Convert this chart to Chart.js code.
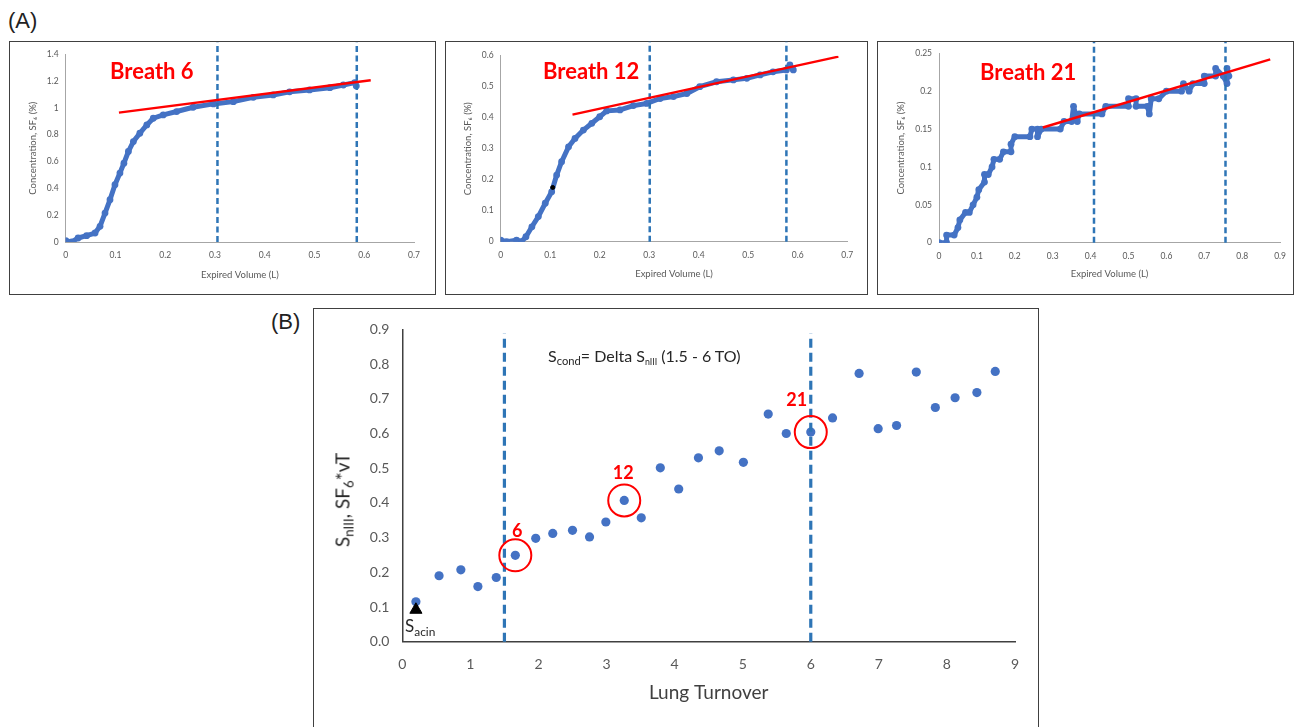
<!DOCTYPE html>
<html>
<head>
<meta charset="utf-8">
<script src="https://cdn.jsdelivr.net/npm/chart.js@4"></script>
<style>
  body { margin: 0; background: #fff; width: 1301px; height: 727px; overflow: hidden; position: relative; font-family: Lato, "Open Sans", sans-serif; }
  canvas { position: absolute; }
  .box { position: absolute; border: 1.5px solid #404040; box-sizing: border-box; }
  .txt { position: absolute; white-space: nowrap; line-height: 1; }
  .breath { color: #ff0000; font-weight: bold; font-size: 22px; }
  .panel { font-family: "Liberation Sans", Arial, sans-serif; font-size: 22px; color: #222; }
  sub { font-size: 70%; vertical-align: -0.3em; line-height: 0; }
</style>
</head>
<body>
<div class="txt panel" style="left:8px; top:10px;">(A)</div>
<div class="txt panel" style="left:271px; top:311px;">(B)</div>

<div class="box" style="left:9px; top:41px; width:427px; height:254px;"></div>
<div class="box" style="left:445px; top:41px; width:423px; height:254px;"></div>
<div class="box" style="left:877px; top:41px; width:417px; height:254px;"></div>
<div class="box" style="left:313px; top:308px; width:726px; height:440px;"></div>

<canvas id="c6" width="427" height="254" style="left:9px; top:41px;"></canvas>
<canvas id="c12" width="423" height="254" style="left:445px; top:41px;"></canvas>
<canvas id="c21" width="417" height="254" style="left:877px; top:41px;"></canvas>
<canvas id="cB" width="726" height="419" style="left:313px; top:308px;"></canvas>

<div class="txt breath" style="left:110px; top:60px;">Breath 6</div>
<div class="txt breath" style="left:543px; top:60px;">Breath 12</div>
<div class="txt breath" style="left:980px; top:61px;">Breath 21</div>

<div class="txt" style="left:548px; top:348px; font-size:16px; color:#262626;">S<sub>cond</sub>= Delta S<sub style="font-size:55%">nIII</sub> (1.5 - 6 TO)</div>
<div class="txt" style="left:405px; top:617px; font-size:17px; color:#262626;">S<sub>acin</sub></div>
<div class="txt" style="left:342px; top:500px; font-size:19px; color:#262626; transform: translate(-50%,-50%) rotate(-90deg);">S<sub>nIII</sub>, SF<sub>6</sub>*vT</div>

<script>
// Breath 6
b6Vol  = [0, 0.012, 0.025, 0.042, 0.059, 0.069, 0.079, 0.089, 0.099, 0.109, 0.117, 0.126, 0.136, 0.149, 0.163, 0.176, 0.196, 0.223, 0.256, 0.297, 0.337, 0.377, 0.417, 0.45, 0.49, 0.531, 0.558, 0.581, 0.584]
b6Conc = [0.01, 0, 0.03, 0.047, 0.067, 0.117, 0.216, 0.315, 0.427, 0.514, 0.588, 0.675, 0.749, 0.811, 0.873, 0.923, 0.948, 0.973, 1.005, 1.03, 1.047, 1.079, 1.097, 1.12, 1.134, 1.151, 1.171, 1.189, 1.164]
b6FitVol  = [0.107, 0.613]
b6FitConc = [0.965, 1.207]
b6Marks = [0.305, 0.585]

// Breath 12
b12Vol  = [0, 0.012, 0.032, 0.042, 0.051, 0.063, 0.076, 0.09, 0.103, 0.113, 0.123, 0.137, 0.15, 0.167, 0.184, 0.2, 0.214, 0.241, 0.268, 0.295, 0.322, 0.349, 0.376, 0.402, 0.436, 0.47, 0.497, 0.524, 0.55, 0.577, 0.584, 0.591]
b12Conc = [0.005, 0, 0.005, 0, 0.016, 0.048, 0.081, 0.124, 0.161, 0.215, 0.258, 0.306, 0.333, 0.36, 0.382, 0.403, 0.422, 0.425, 0.439, 0.446, 0.462, 0.468, 0.478, 0.5, 0.516, 0.522, 0.527, 0.538, 0.548, 0.554, 0.57, 0.554]
b12FitVol  = [0.145, 0.682]
b12FitConc = [0.41, 0.597]
b12Marks = [0.301, 0.577]

// Breath 21
b21Vol  = [0, 0.02, 0.02, 0.04, 0.05, 0.055, 0.07, 0.08, 0.09, 0.1, 0.105, 0.12, 0.12, 0.13, 0.14, 0.145, 0.16, 0.17, 0.19, 0.19, 0.2, 0.24, 0.245, 0.26, 0.26, 0.27, 0.32, 0.33, 0.35, 0.355, 0.36, 0.365, 0.37, 0.43, 0.44, 0.5, 0.5, 0.52, 0.52, 0.55, 0.555, 0.56, 0.58, 0.6, 0.64, 0.645, 0.66, 0.67, 0.7, 0.7, 0.73, 0.73, 0.75, 0.76, 0.76, 0.765]
b21Conc = [0, 0, 0.01, 0.01, 0.02, 0.03, 0.04, 0.04, 0.05, 0.06, 0.07, 0.08, 0.09, 0.09, 0.1, 0.11, 0.11, 0.12, 0.12, 0.13, 0.14, 0.14, 0.15, 0.15, 0.14, 0.15, 0.15, 0.16, 0.16, 0.18, 0.17, 0.16, 0.17, 0.17, 0.18, 0.18, 0.19, 0.19, 0.18, 0.18, 0.17, 0.19, 0.19, 0.2, 0.2, 0.21, 0.2, 0.21, 0.21, 0.22, 0.22, 0.23, 0.22, 0.21, 0.23, 0.22]
b21FitVol  = [0.274, 0.874]
b21FitConc = [0.152, 0.242]
b21Marks = [0.409, 0.756]

// Panel B: S_nIII vs lung turnover
turnover = [0.2, 0.54, 0.86, 1.11, 1.38, 1.66, 1.96, 2.21, 2.5, 2.75, 2.99, 3.26, 3.51, 3.79, 4.06, 4.35, 4.655, 5.01, 5.375, 5.64, 6.0, 6.32, 6.71, 6.99, 7.26, 7.55, 7.83, 8.12, 8.44, 8.71]
snIII    = [0.115, 0.19, 0.207, 0.159, 0.185, 0.249, 0.298, 0.312, 0.321, 0.302, 0.345, 0.407, 0.357, 0.501, 0.44, 0.53, 0.55, 0.517, 0.656, 0.6, 0.604, 0.645, 0.773, 0.614, 0.623, 0.777, 0.675, 0.703, 0.718, 0.779]
breathIdx    = [5, 11, 20]
breathLabels = ['6', '12', '21']
condLimits = [1.5, 6]
sAcin = [0.2, 0.092]

var pts = (xs, ys) => xs.map((x, i) => ({ x: x, y: ys[i] }))
var vline = (x, top) => [{ x: x, y: 0 }, { x: x, y: top }]
var fixW = w => (s => { s.width = w })
var fixH = h => (s => { s.height = h })
var plain = v => String(+v.toFixed(2))

// geometry: canvas [L,T,W,H], plot [left,top,right,bottom], centre of y title x, centre of x title y
function curvePanel(id, g, vol, conc, fitV, fitC, marks, xmax, ymax, ystep, dashTop, extra) {
    var [L, T, W, H] = g.box
    var [pl, pt, pr, pb] = g.plot
    var yOff = 11.4 / 2, xOff = 11.4 / 2
    var padL = g.ytx - L - yOff
    var xBottom = g.xty + xOff
    var datasets = [
        { data: pts(fitV, fitC), showLine: true, borderColor: '#ff0000', borderWidth: 2.5, pointRadius: 0, order: 1 },
        { data: pts(vol, conc), showLine: true, borderColor: '#4472c4', backgroundColor: '#4472c4', borderWidth: 5,
          borderJoinStyle: 'round', borderCapStyle: 'round', pointRadius: 3.4, pointBorderWidth: 0, order: 3 }
    ]
    marks.forEach(m => datasets.push({ data: vline(m, dashTop), showLine: true, borderColor: '#2e75b6', borderWidth: 2.5, borderDash: [6, 3.5], pointRadius: 0, clip: false, order: 2 }))
    if (extra) datasets.push(extra)
    return new Chart(document.getElementById(id), {
        type: 'scatter',
        data: { datasets: datasets },
        options: {
            responsive: false, animation: false, devicePixelRatio: 1,
            layout: { padding: { left: padL, top: pt - T, right: L + W - pr, bottom: T + H - xBottom } },
            plugins: { legend: { display: false }, tooltip: { enabled: false } },
            scales: {
                x: {
                    min: 0, max: xmax,
                    ticks: { stepSize: 0.1, color: '#595959', font: { family: 'Lato', size: 8.5 }, padding: 8, maxRotation: 0, callback: plain },
                    grid: { display: false, drawTicks: false },
                    border: { color: '#a6a6a6', width: 1 },
                    title: { display: true, text: 'Expired Volume (L)', color: '#595959', font: { family: 'Lato', size: 9.5 }, padding: 0 },
                    afterFit: fixH(xBottom - pb)
                },
                y: {
                    min: 0, max: ymax,
                    ticks: { stepSize: ystep, color: '#595959', font: { family: 'Lato', size: 8.5 }, padding: 7, callback: plain },
                    grid: { display: false, drawTicks: false },
                    border: { color: '#a6a6a6', width: 1 },
                    title: { display: true, text: 'Concentration, SF\u2086 (%)', color: '#595959', font: { family: 'Lato', size: 9.5 }, padding: 0 },
                    afterFit: fixW(pl - L - padL)
                }
            }
        }
    })
}

curvePanel('c6', { box: [9, 41, 427, 254], plot: [65.7, 54.3, 414, 242], ytx: 33, xty: 275 },
    b6Vol, b6Conc, b6FitVol, b6FitConc, b6Marks, 0.7, 1.4, 0.2, 1.49)
curvePanel('c12', { box: [445, 41, 423, 254], plot: [500.7, 55.7, 847.3, 241.7], ytx: 468, xty: 274 },
    b12Vol, b12Conc, b12FitVol, b12FitConc, b12Marks, 0.7, 0.6, 0.1, 0.645,
    { data: [{ x: 0.105, y: 0.175 }], pointRadius: 2, backgroundColor: '#000', borderColor: '#000', order: 0 })
curvePanel('c21', { box: [877, 41, 417, 254], plot: [939, 53.3, 1284.3, 242.7], ytx: 901, xty: 274 },
    b21Vol, b21Conc, b21FitVol, b21FitConc, b21Marks, 0.9, 0.25, 0.05, 0.265)

// panel B
var labelPlugin = {
    id: 'breathLabels',
    afterDatasetsDraw(chart) {
        var meta = chart.getDatasetMeta(0)
        var offs = [[2, -24], [-1, -27], [-14, -32]]
        var ctx = chart.ctx
        ctx.save()
        ctx.fillStyle = '#ff0000'
        ctx.font = 'bold 18px Lato'
        ctx.textAlign = 'center'
        ctx.textBaseline = 'middle'
        meta.data.forEach((p, i) => ctx.fillText(breathLabels[i], p.x + offs[i][0], p.y + offs[i][1]))
        ctx.restore()
    }
}

var bBox = [313, 308, 726, 419], bPlot = [402.3, 329, 1015, 641.7], bXty = 693
var bXBottom = bXty + 19 * 1.2 / 2
new Chart(document.getElementById('cB'), {
    type: 'scatter',
    data: {
        datasets: [
            { data: breathIdx.map(i => ({ x: turnover[i], y: snIII[i] })), pointRadius: 16, pointBorderWidth: 2, borderColor: '#ff0000', backgroundColor: 'rgba(0,0,0,0)', order: 0 },
            { data: [{ x: sAcin[0], y: sAcin[1] }], pointStyle: 'triangle', pointRadius: 7, backgroundColor: '#000', borderColor: '#000', order: 1 },
            { data: pts(turnover, snIII), pointRadius: 4.6, backgroundColor: '#4472c4', borderColor: '#4472c4', borderWidth: 0, order: 3 }
        ].concat(condLimits.map(x => ({ data: vline(x, 0.888), showLine: true, borderColor: '#2e75b6', borderWidth: 3.2, borderDash: [9, 5], pointRadius: 0, clip: false, order: 2 })))
    },
    options: {
        responsive: false, animation: false, devicePixelRatio: 1,
        layout: { padding: { left: 20, top: bPlot[1] - bBox[1], right: bBox[0] + bBox[2] - bPlot[2], bottom: bBox[1] + bBox[3] - bXBottom } },
        plugins: { legend: { display: false }, tooltip: { enabled: false } },
        scales: {
            x: {
                min: 0, max: 9,
                ticks: { stepSize: 1, color: '#595959', font: { family: 'Lato', size: 14 }, padding: 14, maxRotation: 0 },
                grid: { display: false, drawTicks: false },
                border: { color: '#404040', width: 1.5 },
                title: { display: true, text: 'Lung Turnover', color: '#404040', font: { family: 'Lato', size: 19 }, padding: 0 },
                afterFit: fixH(bXBottom - bPlot[3])
            },
            y: {
                min: 0, max: 0.9,
                ticks: { stepSize: 0.1, color: '#595959', font: { family: 'Lato', size: 14 }, padding: 13, callback: v => v.toFixed(1) },
                grid: { display: false, drawTicks: false },
                border: { color: '#404040', width: 1.5 },
                afterFit: fixW(bPlot[0] - bBox[0] - 20)
            }
        }
    },
    plugins: [labelPlugin]
})
</script>
</body>
</html>
